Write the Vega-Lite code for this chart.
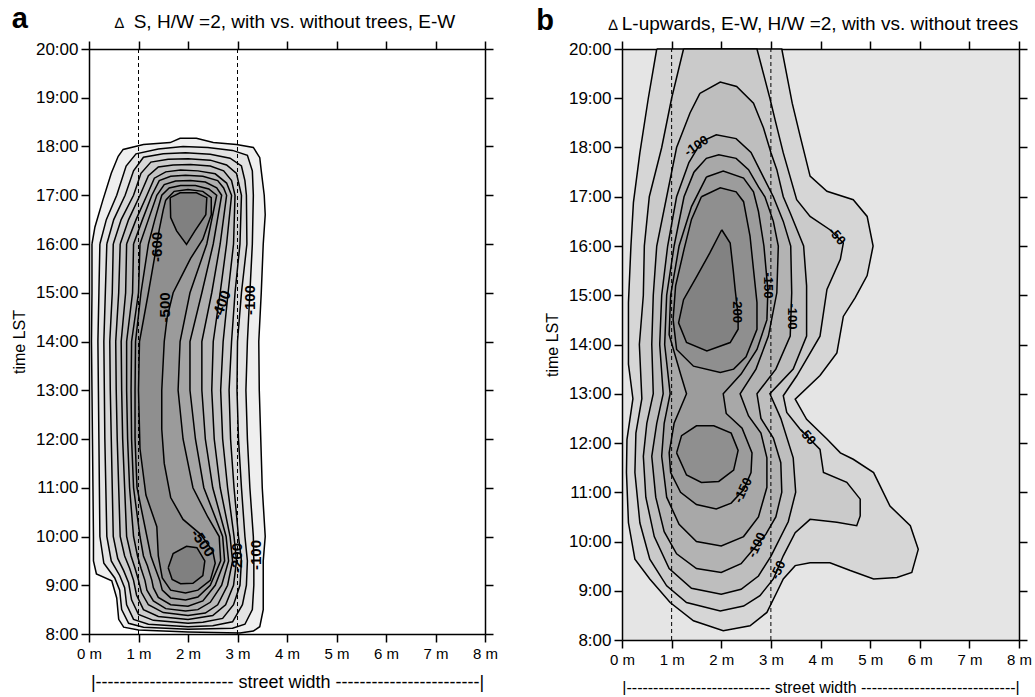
{
  "$schema": "https://vega.github.io/schema/vega-lite/v6.json",
  "background": "white",
  "padding": {"left": 11, "top": 5, "right": 0, "bottom": 0},
  "spacing": 38,
  "config": {
    "font": "Liberation Sans",
    "view": {"stroke": null},
    "axis": {"labelColor": "black", "titleColor": "black", "tickColor": "black", "domainColor": "black", "grid": false, "titleFontWeight": "normal", "tickSize": 8, "tickWidth": 1.5, "domainWidth": 1.5, "labelFlush": false, "labelOverlap": false, "zindex": 1},
    "line": {"stroke": "black", "strokeWidth": 1.5}
  },
  "datasets": {
    "pa": [
      {"l":1,"x":0.06,"h":16.0},{"l":1,"x":0.12,"h":16.35},{"l":1,"x":0.28,"h":16.9},{"l":1,"x":0.45,"h":17.45},{"l":1,"x":0.59,"h":17.8},{"l":1,"x":0.69,"h":17.94},{"l":1,"x":1.1,"h":18.04},{"l":1,"x":1.64,"h":18.08},{"l":1,"x":1.84,"h":18.17},{"l":1,"x":2.17,"h":18.17},{"l":1,"x":2.51,"h":18.08},{"l":1,"x":2.98,"h":18.04},{"l":1,"x":3.32,"h":17.98},{"l":1,"x":3.45,"h":17.77},{"l":1,"x":3.48,"h":17.5},{"l":1,"x":3.54,"h":17.0},{"l":1,"x":3.56,"h":16.6},{"l":1,"x":3.52,"h":16.0},{"l":1,"x":3.48,"h":15.0},{"l":1,"x":3.43,"h":14.0},{"l":1,"x":3.44,"h":13.0},{"l":1,"x":3.47,"h":12.0},{"l":1,"x":3.5,"h":11.0},{"l":1,"x":3.56,"h":10.0},{"l":1,"x":3.52,"h":9.5},{"l":1,"x":3.52,"h":8.5},{"l":1,"x":3.45,"h":8.15},{"l":1,"x":3.32,"h":8.06},{"l":1,"x":3.05,"h":8.02},{"l":1,"x":2.0,"h":8.04},{"l":1,"x":1.0,"h":8.08},{"l":1,"x":0.7,"h":8.14},{"l":1,"x":0.6,"h":8.3},{"l":1,"x":0.56,"h":8.74},{"l":1,"x":0.46,"h":9.09},{"l":1,"x":0.15,"h":9.23},{"l":1,"x":0.09,"h":9.5},{"l":1,"x":0.09,"h":10.0},{"l":1,"x":0.08,"h":11.0},{"l":1,"x":0.07,"h":12.0},{"l":1,"x":0.06,"h":13.0},{"l":1,"x":0.05,"h":14.0},{"l":1,"x":0.06,"h":15.0},{"l":1,"x":0.06,"h":16.0},
      {"l":2,"x":0.22,"h":16.0},{"l":2,"x":0.35,"h":16.5},{"l":2,"x":0.56,"h":17.0},{"l":2,"x":0.75,"h":17.6},{"l":2,"x":0.95,"h":17.85},{"l":2,"x":1.4,"h":17.95},{"l":2,"x":1.9,"h":18.0},{"l":2,"x":2.4,"h":17.98},{"l":2,"x":2.9,"h":17.92},{"l":2,"x":3.2,"h":17.82},{"l":2,"x":3.3,"h":17.5},{"l":2,"x":3.32,"h":17.0},{"l":2,"x":3.3,"h":16.0},{"l":2,"x":3.25,"h":15.0},{"l":2,"x":3.2,"h":14.0},{"l":2,"x":3.17,"h":13.0},{"l":2,"x":3.2,"h":12.0},{"l":2,"x":3.25,"h":11.0},{"l":2,"x":3.32,"h":10.0},{"l":2,"x":3.33,"h":9.5},{"l":2,"x":3.33,"h":9.0},{"l":2,"x":3.3,"h":8.5},{"l":2,"x":3.15,"h":8.2},{"l":2,"x":2.9,"h":8.12},{"l":2,"x":2.0,"h":8.1},{"l":2,"x":1.1,"h":8.14},{"l":2,"x":0.8,"h":8.22},{"l":2,"x":0.66,"h":8.5},{"l":2,"x":0.62,"h":8.9},{"l":2,"x":0.52,"h":9.15},{"l":2,"x":0.3,"h":9.45},{"l":2,"x":0.22,"h":10.0},{"l":2,"x":0.21,"h":11.0},{"l":2,"x":0.2,"h":12.0},{"l":2,"x":0.19,"h":13.0},{"l":2,"x":0.18,"h":14.0},{"l":2,"x":0.2,"h":15.0},{"l":2,"x":0.22,"h":16.0},
      {"l":3,"x":0.36,"h":16.0},{"l":3,"x":0.5,"h":16.5},{"l":3,"x":0.73,"h":17.0},{"l":3,"x":0.9,"h":17.5},{"l":3,"x":1.1,"h":17.78},{"l":3,"x":1.5,"h":17.85},{"l":3,"x":1.95,"h":17.87},{"l":3,"x":2.45,"h":17.84},{"l":3,"x":2.85,"h":17.76},{"l":3,"x":3.08,"h":17.6},{"l":3,"x":3.15,"h":17.3},{"l":3,"x":3.18,"h":17.0},{"l":3,"x":3.19,"h":16.0},{"l":3,"x":3.08,"h":15.0},{"l":3,"x":3.0,"h":14.0},{"l":3,"x":2.99,"h":13.0},{"l":3,"x":3.02,"h":12.0},{"l":3,"x":3.08,"h":11.0},{"l":3,"x":3.15,"h":10.0},{"l":3,"x":3.2,"h":9.5},{"l":3,"x":3.18,"h":9.0},{"l":3,"x":3.1,"h":8.6},{"l":3,"x":2.9,"h":8.25},{"l":3,"x":2.5,"h":8.17},{"l":3,"x":2.0,"h":8.15},{"l":3,"x":1.2,"h":8.2},{"l":3,"x":0.9,"h":8.3},{"l":3,"x":0.76,"h":8.6},{"l":3,"x":0.72,"h":8.95},{"l":3,"x":0.62,"h":9.2},{"l":3,"x":0.45,"h":9.5},{"l":3,"x":0.36,"h":10.0},{"l":3,"x":0.34,"h":11.0},{"l":3,"x":0.32,"h":12.0},{"l":3,"x":0.31,"h":13.0},{"l":3,"x":0.3,"h":14.0},{"l":3,"x":0.33,"h":15.0},{"l":3,"x":0.36,"h":16.0},
      {"l":4,"x":0.49,"h":16.0},{"l":4,"x":0.65,"h":16.5},{"l":4,"x":0.9,"h":17.0},{"l":4,"x":1.05,"h":17.45},{"l":4,"x":1.25,"h":17.68},{"l":4,"x":1.6,"h":17.74},{"l":4,"x":2.0,"h":17.75},{"l":4,"x":2.45,"h":17.72},{"l":4,"x":2.78,"h":17.62},{"l":4,"x":2.98,"h":17.45},{"l":4,"x":3.08,"h":17.0},{"l":4,"x":3.05,"h":16.0},{"l":4,"x":2.95,"h":15.0},{"l":4,"x":2.88,"h":14.0},{"l":4,"x":2.83,"h":13.0},{"l":4,"x":2.86,"h":12.0},{"l":4,"x":2.93,"h":11.0},{"l":4,"x":3.02,"h":10.0},{"l":4,"x":3.08,"h":9.5},{"l":4,"x":3.05,"h":9.0},{"l":4,"x":2.92,"h":8.6},{"l":4,"x":2.7,"h":8.32},{"l":4,"x":2.3,"h":8.24},{"l":4,"x":2.0,"h":8.22},{"l":4,"x":1.3,"h":8.28},{"l":4,"x":1.0,"h":8.4},{"l":4,"x":0.86,"h":8.7},{"l":4,"x":0.8,"h":9.05},{"l":4,"x":0.7,"h":9.3},{"l":4,"x":0.58,"h":9.55},{"l":4,"x":0.49,"h":10.0},{"l":4,"x":0.47,"h":11.0},{"l":4,"x":0.45,"h":12.0},{"l":4,"x":0.43,"h":13.0},{"l":4,"x":0.42,"h":14.0},{"l":4,"x":0.47,"h":15.0},{"l":4,"x":0.49,"h":16.0},
      {"l":5,"x":0.63,"h":16.0},{"l":5,"x":0.8,"h":16.5},{"l":5,"x":1.03,"h":17.0},{"l":5,"x":1.2,"h":17.4},{"l":5,"x":1.4,"h":17.58},{"l":5,"x":1.7,"h":17.62},{"l":5,"x":2.05,"h":17.63},{"l":5,"x":2.45,"h":17.6},{"l":5,"x":2.72,"h":17.5},{"l":5,"x":2.88,"h":17.3},{"l":5,"x":2.95,"h":17.0},{"l":5,"x":2.92,"h":16.0},{"l":5,"x":2.81,"h":15.0},{"l":5,"x":2.71,"h":14.0},{"l":5,"x":2.66,"h":13.0},{"l":5,"x":2.7,"h":12.0},{"l":5,"x":2.8,"h":11.0},{"l":5,"x":2.93,"h":10.0},{"l":5,"x":2.98,"h":9.5},{"l":5,"x":2.92,"h":9.0},{"l":5,"x":2.76,"h":8.6},{"l":5,"x":2.5,"h":8.38},{"l":5,"x":2.0,"h":8.3},{"l":5,"x":1.4,"h":8.36},{"l":5,"x":1.1,"h":8.5},{"l":5,"x":0.96,"h":8.8},{"l":5,"x":0.9,"h":9.1},{"l":5,"x":0.82,"h":9.35},{"l":5,"x":0.72,"h":9.6},{"l":5,"x":0.63,"h":10.0},{"l":5,"x":0.6,"h":11.0},{"l":5,"x":0.57,"h":12.0},{"l":5,"x":0.55,"h":13.0},{"l":5,"x":0.54,"h":14.0},{"l":5,"x":0.6,"h":15.0},{"l":5,"x":0.63,"h":16.0},
      {"l":6,"x":0.76,"h":16.0},{"l":6,"x":0.95,"h":16.5},{"l":6,"x":1.17,"h":17.0},{"l":6,"x":1.32,"h":17.35},{"l":6,"x":1.55,"h":17.48},{"l":6,"x":1.85,"h":17.52},{"l":6,"x":2.2,"h":17.5},{"l":6,"x":2.55,"h":17.44},{"l":6,"x":2.78,"h":17.25},{"l":6,"x":2.88,"h":17.0},{"l":6,"x":2.78,"h":16.0},{"l":6,"x":2.65,"h":15.0},{"l":6,"x":2.51,"h":14.0},{"l":6,"x":2.48,"h":13.0},{"l":6,"x":2.53,"h":12.0},{"l":6,"x":2.65,"h":11.0},{"l":6,"x":2.85,"h":10.0},{"l":6,"x":2.9,"h":9.5},{"l":6,"x":2.8,"h":9.0},{"l":6,"x":2.6,"h":8.6},{"l":6,"x":2.35,"h":8.43},{"l":6,"x":2.0,"h":8.38},{"l":6,"x":1.5,"h":8.44},{"l":6,"x":1.2,"h":8.6},{"l":6,"x":1.06,"h":8.85},{"l":6,"x":1.0,"h":9.1},{"l":6,"x":0.93,"h":9.35},{"l":6,"x":0.85,"h":9.6},{"l":6,"x":0.76,"h":10.0},{"l":6,"x":0.72,"h":11.0},{"l":6,"x":0.68,"h":12.0},{"l":6,"x":0.66,"h":13.0},{"l":6,"x":0.65,"h":14.0},{"l":6,"x":0.74,"h":15.0},{"l":6,"x":0.76,"h":16.0},
      {"l":7,"x":0.9,"h":16.0},{"l":7,"x":1.08,"h":16.5},{"l":7,"x":1.27,"h":17.0},{"l":7,"x":1.42,"h":17.3},{"l":7,"x":1.65,"h":17.39},{"l":7,"x":1.95,"h":17.41},{"l":7,"x":2.3,"h":17.39},{"l":7,"x":2.6,"h":17.3},{"l":7,"x":2.72,"h":17.15},{"l":7,"x":2.78,"h":17.0},{"l":7,"x":2.65,"h":16.0},{"l":7,"x":2.48,"h":15.0},{"l":7,"x":2.28,"h":14.0},{"l":7,"x":2.28,"h":13.0},{"l":7,"x":2.35,"h":12.0},{"l":7,"x":2.5,"h":11.0},{"l":7,"x":2.77,"h":10.0},{"l":7,"x":2.82,"h":9.5},{"l":7,"x":2.68,"h":9.0},{"l":7,"x":2.45,"h":8.65},{"l":7,"x":2.2,"h":8.5},{"l":7,"x":1.95,"h":8.47},{"l":7,"x":1.55,"h":8.52},{"l":7,"x":1.3,"h":8.68},{"l":7,"x":1.17,"h":8.9},{"l":7,"x":1.13,"h":9.1},{"l":7,"x":1.05,"h":9.35},{"l":7,"x":0.98,"h":9.6},{"l":7,"x":0.9,"h":10.0},{"l":7,"x":0.82,"h":11.0},{"l":7,"x":0.78,"h":12.0},{"l":7,"x":0.76,"h":13.0},{"l":7,"x":0.76,"h":14.0},{"l":7,"x":0.88,"h":15.0},{"l":7,"x":0.9,"h":16.0},
      {"l":8,"x":1.03,"h":16.0},{"l":8,"x":1.2,"h":16.5},{"l":8,"x":1.37,"h":17.0},{"l":8,"x":1.52,"h":17.22},{"l":8,"x":1.75,"h":17.29},{"l":8,"x":2.05,"h":17.3},{"l":8,"x":2.35,"h":17.27},{"l":8,"x":2.58,"h":17.15},{"l":8,"x":2.68,"h":17.0},{"l":8,"x":2.51,"h":16.0},{"l":8,"x":2.28,"h":15.0},{"l":8,"x":2.04,"h":14.0},{"l":8,"x":2.04,"h":13.0},{"l":8,"x":2.15,"h":12.0},{"l":8,"x":2.32,"h":11.0},{"l":8,"x":2.7,"h":10.0},{"l":8,"x":2.74,"h":9.5},{"l":8,"x":2.55,"h":9.0},{"l":8,"x":2.3,"h":8.68},{"l":8,"x":2.0,"h":8.57},{"l":8,"x":1.65,"h":8.6},{"l":8,"x":1.4,"h":8.75},{"l":8,"x":1.3,"h":8.95},{"l":8,"x":1.27,"h":9.1},{"l":8,"x":1.18,"h":9.4},{"l":8,"x":1.1,"h":9.6},{"l":8,"x":1.03,"h":10.0},{"l":8,"x":0.9,"h":11.0},{"l":8,"x":0.86,"h":12.0},{"l":8,"x":0.85,"h":13.0},{"l":8,"x":0.86,"h":14.0},{"l":8,"x":1.0,"h":15.0},{"l":8,"x":1.03,"h":16.0},
      {"l":9,"x":1.2,"h":16.0},{"l":9,"x":1.33,"h":16.5},{"l":9,"x":1.47,"h":17.0},{"l":9,"x":1.62,"h":17.15},{"l":9,"x":1.85,"h":17.2},{"l":9,"x":2.15,"h":17.2},{"l":9,"x":2.42,"h":17.13},{"l":9,"x":2.58,"h":17.0},{"l":9,"x":2.38,"h":16.0},{"l":9,"x":2.04,"h":15.0},{"l":9,"x":1.84,"h":14.0},{"l":9,"x":1.8,"h":13.0},{"l":9,"x":1.9,"h":12.0},{"l":9,"x":2.1,"h":11.0},{"l":9,"x":2.4,"h":10.4},{"l":9,"x":2.63,"h":10.0},{"l":9,"x":2.66,"h":9.5},{"l":9,"x":2.45,"h":9.0},{"l":9,"x":2.2,"h":8.76},{"l":9,"x":1.95,"h":8.7},{"l":9,"x":1.65,"h":8.74},{"l":9,"x":1.48,"h":8.9},{"l":9,"x":1.43,"h":9.1},{"l":9,"x":1.32,"h":9.4},{"l":9,"x":1.25,"h":9.6},{"l":9,"x":1.17,"h":10.0},{"l":9,"x":0.97,"h":11.0},{"l":9,"x":0.93,"h":12.0},{"l":9,"x":0.93,"h":13.0},{"l":9,"x":0.94,"h":14.0},{"l":9,"x":1.05,"h":15.0},{"l":9,"x":1.2,"h":16.0},
      {"l":10,"x":1.55,"h":16.9},{"l":10,"x":1.72,"h":17.08},{"l":10,"x":2.0,"h":17.12},{"l":10,"x":2.3,"h":17.08},{"l":10,"x":2.47,"h":16.95},{"l":10,"x":2.47,"h":16.6},{"l":10,"x":2.3,"h":16.1},{"l":10,"x":2.05,"h":15.7},{"l":10,"x":1.85,"h":15.3},{"l":10,"x":1.7,"h":15.0},{"l":10,"x":1.58,"h":14.5},{"l":10,"x":1.52,"h":14.0},{"l":10,"x":1.47,"h":13.0},{"l":10,"x":1.47,"h":12.2},{"l":10,"x":1.52,"h":11.5},{"l":10,"x":1.65,"h":10.8},{"l":10,"x":1.9,"h":10.35},{"l":10,"x":2.25,"h":10.05},{"l":10,"x":2.5,"h":9.7},{"l":10,"x":2.55,"h":9.45},{"l":10,"x":2.45,"h":9.1},{"l":10,"x":2.2,"h":8.9},{"l":10,"x":1.95,"h":8.84},{"l":10,"x":1.65,"h":8.9},{"l":10,"x":1.48,"h":9.15},{"l":10,"x":1.4,"h":9.6},{"l":10,"x":1.37,"h":10.2},{"l":10,"x":1.15,"h":10.85},{"l":10,"x":1.03,"h":11.8},{"l":10,"x":1.0,"h":13.0},{"l":10,"x":1.02,"h":14.0},{"l":10,"x":1.2,"h":15.0},{"l":10,"x":1.32,"h":15.7},{"l":10,"x":1.42,"h":16.3},{"l":10,"x":1.5,"h":16.7},{"l":10,"x":1.55,"h":16.9},
      {"l":11,"x":1.64,"h":16.95},{"l":11,"x":1.84,"h":17.05},{"l":11,"x":2.17,"h":17.05},{"l":11,"x":2.38,"h":16.95},{"l":11,"x":2.36,"h":16.6},{"l":11,"x":2.14,"h":16.27},{"l":11,"x":1.97,"h":15.99},{"l":11,"x":1.77,"h":16.27},{"l":11,"x":1.65,"h":16.54},{"l":11,"x":1.64,"h":16.95},
      {"l":12,"x":1.6,"h":9.36},{"l":12,"x":1.7,"h":9.65},{"l":12,"x":1.97,"h":9.8},{"l":12,"x":2.18,"h":9.77},{"l":12,"x":2.34,"h":9.5},{"l":12,"x":2.3,"h":9.2},{"l":12,"x":2.1,"h":9.04},{"l":12,"x":1.85,"h":9.03},{"l":12,"x":1.68,"h":9.12},{"l":12,"x":1.6,"h":9.36}
    ],
    "pb": [
      {"l":1,"x":0.7,"h":20},{"l":1,"x":3.22,"h":20},{"l":1,"x":3.43,"h":18.9},{"l":1,"x":3.59,"h":18.23},{"l":1,"x":3.79,"h":17.42},{"l":1,"x":4.13,"h":17.11},{"l":1,"x":4.66,"h":16.94},{"l":1,"x":4.94,"h":16.6},{"l":1,"x":5.06,"h":16.0},{"l":1,"x":4.94,"h":15.4},{"l":1,"x":4.7,"h":14.95},{"l":1,"x":4.46,"h":14.57},{"l":1,"x":4.33,"h":13.83},{"l":1,"x":3.99,"h":13.37},{"l":1,"x":3.49,"h":12.89},{"l":1,"x":3.72,"h":12.48},{"l":1,"x":4.13,"h":12.08},{"l":1,"x":4.4,"h":11.8},{"l":1,"x":4.66,"h":11.67},{"l":1,"x":5.07,"h":11.4},{"l":1,"x":5.4,"h":10.72},{"l":1,"x":5.81,"h":10.32},{"l":1,"x":5.97,"h":9.84},{"l":1,"x":5.84,"h":9.37},{"l":1,"x":5.54,"h":9.27},{"l":1,"x":5.07,"h":9.24},{"l":1,"x":4.6,"h":9.41},{"l":1,"x":4.19,"h":9.57},{"l":1,"x":3.79,"h":9.57},{"l":1,"x":3.49,"h":9.51},{"l":1,"x":3.25,"h":9.24},{"l":1,"x":3.12,"h":8.97},{"l":1,"x":2.92,"h":8.56},{"l":1,"x":2.58,"h":8.29},{"l":1,"x":2.04,"h":8.19},{"l":1,"x":1.44,"h":8.39},{"l":1,"x":0.97,"h":8.76},{"l":1,"x":0.56,"h":9.24},{"l":1,"x":0.26,"h":9.64},{"l":1,"x":0.13,"h":10.38},{"l":1,"x":0.09,"h":11.4},{"l":1,"x":0.1,"h":12.07},{"l":1,"x":0.22,"h":12.9},{"l":1,"x":0.13,"h":13.6},{"l":1,"x":0.13,"h":14.85},{"l":1,"x":0.18,"h":16.0},{"l":1,"x":0.23,"h":16.88},{"l":1,"x":0.36,"h":17.89},{"l":1,"x":0.53,"h":19.0},{"l":1,"x":0.7,"h":20},
      {"l":2,"x":1.24,"h":20},{"l":2,"x":2.72,"h":20},{"l":2,"x":2.98,"h":19.0},{"l":2,"x":3.1,"h":18.5},{"l":2,"x":3.25,"h":17.89},{"l":2,"x":3.52,"h":16.94},{"l":2,"x":3.79,"h":16.6},{"l":2,"x":4.19,"h":16.33},{"l":2,"x":4.46,"h":16.06},{"l":2,"x":4.4,"h":15.73},{"l":2,"x":4.13,"h":15.12},{"l":2,"x":3.99,"h":14.17},{"l":2,"x":3.52,"h":13.36},{"l":2,"x":3.25,"h":12.96},{"l":2,"x":3.32,"h":12.62},{"l":2,"x":3.59,"h":12.28},{"l":2,"x":3.99,"h":11.87},{"l":2,"x":4.06,"h":11.4},{"l":2,"x":4.53,"h":11.2},{"l":2,"x":4.8,"h":10.86},{"l":2,"x":4.8,"h":10.52},{"l":2,"x":4.73,"h":10.32},{"l":2,"x":4.33,"h":10.39},{"l":2,"x":3.79,"h":10.45},{"l":2,"x":3.49,"h":10.18},{"l":2,"x":3.25,"h":9.71},{"l":2,"x":3.05,"h":9.24},{"l":2,"x":2.78,"h":8.9},{"l":2,"x":2.45,"h":8.69},{"l":2,"x":1.98,"h":8.59},{"l":2,"x":1.3,"h":8.76},{"l":2,"x":0.9,"h":9.1},{"l":2,"x":0.56,"h":9.64},{"l":2,"x":0.36,"h":10.38},{"l":2,"x":0.26,"h":11.4},{"l":2,"x":0.28,"h":12.2},{"l":2,"x":0.4,"h":12.9},{"l":2,"x":0.35,"h":14.0},{"l":2,"x":0.43,"h":15.0},{"l":2,"x":0.45,"h":16.0},{"l":2,"x":0.55,"h":17.0},{"l":2,"x":0.8,"h":18.0},{"l":2,"x":1.0,"h":19.0},{"l":2,"x":1.24,"h":20},
      {"l":3,"x":1.57,"h":19.1},{"l":3,"x":1.98,"h":19.33},{"l":3,"x":2.31,"h":19.24},{"l":3,"x":2.65,"h":18.9},{"l":3,"x":2.85,"h":18.4},{"l":3,"x":3.0,"h":17.9},{"l":3,"x":3.12,"h":17.55},{"l":3,"x":3.25,"h":17.0},{"l":3,"x":3.39,"h":16.67},{"l":3,"x":3.66,"h":16.0},{"l":3,"x":3.72,"h":15.19},{"l":3,"x":3.72,"h":14.17},{"l":3,"x":3.45,"h":13.5},{"l":3,"x":2.98,"h":13.0},{"l":3,"x":3.2,"h":12.5},{"l":3,"x":3.45,"h":11.7},{"l":3,"x":3.5,"h":11.0},{"l":3,"x":3.35,"h":10.4},{"l":3,"x":3.0,"h":9.7},{"l":3,"x":2.75,"h":9.3},{"l":3,"x":2.4,"h":9.03},{"l":3,"x":2.0,"h":8.93},{"l":3,"x":1.4,"h":9.05},{"l":3,"x":0.95,"h":9.45},{"l":3,"x":0.65,"h":10.1},{"l":3,"x":0.48,"h":10.9},{"l":3,"x":0.43,"h":11.73},{"l":3,"x":0.5,"h":12.4},{"l":3,"x":0.63,"h":13.0},{"l":3,"x":0.6,"h":14.0},{"l":3,"x":0.63,"h":15.0},{"l":3,"x":0.7,"h":16.0},{"l":3,"x":0.9,"h":17.0},{"l":3,"x":1.1,"h":18.0},{"l":3,"x":1.37,"h":18.7},{"l":3,"x":1.57,"h":19.1},
      {"l":4,"x":1.35,"h":17.7},{"l":4,"x":1.6,"h":18.12},{"l":4,"x":1.9,"h":18.26},{"l":4,"x":2.3,"h":18.18},{"l":4,"x":2.6,"h":17.9},{"l":4,"x":2.85,"h":17.4},{"l":4,"x":3.05,"h":17.0},{"l":4,"x":3.25,"h":16.5},{"l":4,"x":3.4,"h":16.0},{"l":4,"x":3.42,"h":15.05},{"l":4,"x":3.39,"h":14.17},{"l":4,"x":3.1,"h":13.5},{"l":4,"x":2.72,"h":13.0},{"l":4,"x":2.8,"h":12.5},{"l":4,"x":3.05,"h":12.1},{"l":4,"x":3.2,"h":11.6},{"l":4,"x":3.22,"h":11.0},{"l":4,"x":3.1,"h":10.5},{"l":4,"x":2.9,"h":10.15},{"l":4,"x":2.72,"h":9.93},{"l":4,"x":2.4,"h":9.55},{"l":4,"x":2.0,"h":9.37},{"l":4,"x":1.5,"h":9.45},{"l":4,"x":1.1,"h":9.75},{"l":4,"x":0.85,"h":10.2},{"l":4,"x":0.68,"h":10.9},{"l":4,"x":0.6,"h":11.73},{"l":4,"x":0.7,"h":12.4},{"l":4,"x":0.83,"h":13.0},{"l":4,"x":0.76,"h":14.0},{"l":4,"x":0.8,"h":15.0},{"l":4,"x":0.92,"h":16.0},{"l":4,"x":1.1,"h":17.0},{"l":4,"x":1.35,"h":17.7},
      {"l":5,"x":1.45,"h":17.5},{"l":5,"x":1.7,"h":17.78},{"l":5,"x":1.95,"h":17.85},{"l":5,"x":2.3,"h":17.78},{"l":5,"x":2.55,"h":17.55},{"l":5,"x":2.75,"h":17.2},{"l":5,"x":2.88,"h":17.0},{"l":5,"x":3.05,"h":16.5},{"l":5,"x":3.15,"h":16.0},{"l":5,"x":3.12,"h":15.05},{"l":5,"x":2.95,"h":14.17},{"l":5,"x":2.7,"h":13.5},{"l":5,"x":2.38,"h":13.0},{"l":5,"x":2.55,"h":12.55},{"l":5,"x":2.8,"h":12.2},{"l":5,"x":2.92,"h":11.7},{"l":5,"x":2.92,"h":11.1},{"l":5,"x":2.75,"h":10.5},{"l":5,"x":2.45,"h":10.1},{"l":5,"x":2.0,"h":9.91},{"l":5,"x":1.5,"h":10.0},{"l":5,"x":1.15,"h":10.35},{"l":5,"x":0.9,"h":10.9},{"l":5,"x":0.8,"h":11.73},{"l":5,"x":0.85,"h":12.4},{"l":5,"x":0.97,"h":13.0},{"l":5,"x":0.86,"h":14.0},{"l":5,"x":0.9,"h":15.0},{"l":5,"x":1.05,"h":16.0},{"l":5,"x":1.25,"h":17.0},{"l":5,"x":1.45,"h":17.5},
      {"l":6,"x":1.7,"h":17.4},{"l":6,"x":2.04,"h":17.52},{"l":6,"x":2.45,"h":17.38},{"l":6,"x":2.65,"h":17.1},{"l":6,"x":2.75,"h":16.7},{"l":6,"x":2.86,"h":16.0},{"l":6,"x":2.94,"h":15.1},{"l":6,"x":2.92,"h":14.5},{"l":6,"x":2.72,"h":13.9},{"l":6,"x":2.4,"h":13.4},{"l":6,"x":2.04,"h":13.0},{"l":6,"x":2.1,"h":12.6},{"l":6,"x":2.42,"h":12.3},{"l":6,"x":2.62,"h":11.8},{"l":6,"x":2.6,"h":11.4},{"l":6,"x":2.45,"h":11.05},{"l":6,"x":2.2,"h":10.78},{"l":6,"x":1.9,"h":10.66},{"l":6,"x":1.5,"h":10.75},{"l":6,"x":1.18,"h":11.0},{"l":6,"x":0.98,"h":11.4},{"l":6,"x":0.95,"h":11.8},{"l":6,"x":1.05,"h":12.4},{"l":6,"x":1.3,"h":13.0},{"l":6,"x":1.18,"h":13.4},{"l":6,"x":0.95,"h":14.2},{"l":6,"x":0.98,"h":15.0},{"l":6,"x":1.15,"h":16.0},{"l":6,"x":1.4,"h":16.8},{"l":6,"x":1.7,"h":17.4},
      {"l":7,"x":1.6,"h":17.0},{"l":7,"x":1.98,"h":17.18},{"l":7,"x":2.3,"h":17.1},{"l":7,"x":2.45,"h":16.9},{"l":7,"x":2.58,"h":16.2},{"l":7,"x":2.65,"h":15.52},{"l":7,"x":2.72,"h":14.85},{"l":7,"x":2.72,"h":14.31},{"l":7,"x":2.5,"h":13.75},{"l":7,"x":2.25,"h":13.5},{"l":7,"x":1.98,"h":13.43},{"l":7,"x":1.44,"h":13.56},{"l":7,"x":1.1,"h":13.9},{"l":7,"x":1.03,"h":14.51},{"l":7,"x":1.08,"h":15.19},{"l":7,"x":1.25,"h":15.93},{"l":7,"x":1.4,"h":16.54},{"l":7,"x":1.6,"h":17.0},
      {"l":8,"x":1.1,"h":11.8},{"l":8,"x":1.2,"h":12.15},{"l":8,"x":1.5,"h":12.35},{"l":8,"x":1.85,"h":12.35},{"l":8,"x":2.2,"h":12.2},{"l":8,"x":2.34,"h":11.85},{"l":8,"x":2.25,"h":11.45},{"l":8,"x":1.95,"h":11.22},{"l":8,"x":1.6,"h":11.2},{"l":8,"x":1.3,"h":11.35},{"l":8,"x":1.1,"h":11.8},
      {"l":9,"x":2.01,"h":16.33},{"l":9,"x":2.18,"h":16.06},{"l":9,"x":2.24,"h":15.52},{"l":9,"x":2.28,"h":15.12},{"l":9,"x":2.34,"h":14.58},{"l":9,"x":2.34,"h":14.31},{"l":9,"x":2.18,"h":14.04},{"l":9,"x":1.71,"h":13.87},{"l":9,"x":1.3,"h":14.04},{"l":9,"x":1.14,"h":14.44},{"l":9,"x":1.24,"h":14.91},{"l":9,"x":1.51,"h":15.39},{"l":9,"x":1.77,"h":15.86},{"l":9,"x":2.01,"h":16.33}
    ]
  },
  "hconcat": [
    {
      "width": 396,
      "height": 585,
      "encoding": {
        "x": {"field": "x", "type": "quantitative", "scale": {"domain": [0, 8], "nice": false, "zero": false}, "axis": null},
        "y": {"field": "h", "type": "quantitative", "scale": {"domain": [8, 20], "nice": false, "zero": false}, "axis": null}
      },
      "resolve": {"axis": {"x": "independent", "y": "independent"}},
      "layer": [
        {"data": {"name": "pa"}, "transform": [{"filter": "datum.l == 1"}], "mark": {"type": "line", "fill": "#efefef"},
         "encoding": {
           "x": {"field": "x", "type": "quantitative", "scale": {"domain": [0, 8], "nice": false, "zero": false}, "axis": {"orient": "bottom", "values": [0,1,2,3,4,5,6,7,8], "labelExpr": "datum.value + ' m'", "labelFontSize": 15, "labelPadding": 4, "title": "|----------------------- street width ------------------------|", "titleFontSize": 18, "titlePadding": 12}},
           "y": {"field": "h", "type": "quantitative", "scale": {"domain": [8, 20], "nice": false, "zero": false}, "axis": {"orient": "left", "values": [8,9,10,11,12,13,14,15,16,17,18,19,20], "labelExpr": "datum.value + ':00'", "labelFontSize": 17, "labelPadding": 3, "title": "time  LST", "titleFontSize": 16, "titlePadding": 8}},
           "order": {"value": null}, "detail": {"field": "l"}}},
        {"data": {"name": "pa"}, "transform": [{"filter": "datum.l == 2"}], "mark": {"type": "line", "fill": "#e3e3e3"}, "encoding": {"order": {"value": null}, "detail": {"field": "l"}}},
        {"data": {"name": "pa"}, "transform": [{"filter": "datum.l == 3"}], "mark": {"type": "line", "fill": "#d8d8d8"}, "encoding": {"order": {"value": null}, "detail": {"field": "l"}}},
        {"data": {"name": "pa"}, "transform": [{"filter": "datum.l == 4"}], "mark": {"type": "line", "fill": "#cdcdcd"}, "encoding": {"order": {"value": null}, "detail": {"field": "l"}}},
        {"data": {"name": "pa"}, "transform": [{"filter": "datum.l == 5"}], "mark": {"type": "line", "fill": "#c3c3c3"}, "encoding": {"order": {"value": null}, "detail": {"field": "l"}}},
        {"data": {"name": "pa"}, "transform": [{"filter": "datum.l == 6"}], "mark": {"type": "line", "fill": "#b9b9b9"}, "encoding": {"order": {"value": null}, "detail": {"field": "l"}}},
        {"data": {"name": "pa"}, "transform": [{"filter": "datum.l == 7"}], "mark": {"type": "line", "fill": "#afafaf"}, "encoding": {"order": {"value": null}, "detail": {"field": "l"}}},
        {"data": {"name": "pa"}, "transform": [{"filter": "datum.l == 8"}], "mark": {"type": "line", "fill": "#a5a5a5"}, "encoding": {"order": {"value": null}, "detail": {"field": "l"}}},
        {"data": {"name": "pa"}, "transform": [{"filter": "datum.l == 9"}], "mark": {"type": "line", "fill": "#9b9b9b"}, "encoding": {"order": {"value": null}, "detail": {"field": "l"}}},
        {"data": {"name": "pa"}, "transform": [{"filter": "datum.l == 10"}], "mark": {"type": "line", "fill": "#8f8f8f"}, "encoding": {"order": {"value": null}, "detail": {"field": "l"}}},
        {"data": {"name": "pa"}, "transform": [{"filter": "datum.l >= 11"}], "mark": {"type": "line", "fill": "#808080"}, "encoding": {"order": {"value": null}, "detail": {"field": "l"}}},
        {"data": {"values": [{"x": 1, "h": 8, "h2": 20}, {"x": 3, "h": 8, "h2": 20}]},
         "mark": {"type": "rule", "stroke": "black", "strokeWidth": 1, "strokeDash": [4, 3]},
         "encoding": {
           "x": {"field": "x", "type": "quantitative", "scale": {"domain": [0, 8], "nice": false, "zero": false}, "axis": {"orient": "top", "values": [0,1,2,3,4,5,6,7,8], "labels": false, "title": null}},
           "y2": {"field": "h2"}}},
        {"data": {"values": [{"t": "-600", "x": 1.37, "h": 15.94}, {"t": "-500", "x": 1.54, "h": 14.7}, {"t": "-100", "x": 3.25, "h": 14.85}, {"t": "-200", "x": 2.98, "h": 9.56}, {"t": "-100", "x": 3.38, "h": 9.62}]},
         "mark": {"type": "text", "angle": 270, "fontWeight": "bold", "fontSize": 15, "align": "center", "baseline": "middle", "color": "black"},
         "encoding": {
           "text": {"field": "t"},
           "y": {"field": "h", "type": "quantitative", "scale": {"domain": [8, 20], "nice": false, "zero": false}, "axis": {"orient": "right", "values": [8,9,10,11,12,13,14,15,16,17,18,19,20], "labels": false, "title": null}}}},
        {"data": {"values": [{"t": "-400", "x": 2.67, "h": 14.75}]},
         "mark": {"type": "text", "angle": 290, "fontWeight": "bold", "fontSize": 15, "align": "center", "baseline": "middle", "color": "black"},
         "encoding": {"text": {"field": "t"}}},
        {"data": {"values": [{"t": "-500", "x": 2.3, "h": 9.87}]},
         "mark": {"type": "text", "angle": 55, "fontWeight": "bold", "fontSize": 15, "align": "center", "baseline": "middle", "color": "black"},
         "encoding": {"text": {"field": "t"}}},
        {"data": {"values": [{"t": "a", "x": -1.4, "h": 20.43}]},
         "mark": {"type": "text", "fontWeight": "bold", "fontSize": 29, "align": "center", "baseline": "alphabetic", "color": "black"},
         "encoding": {"text": {"field": "t"}}},
        {"data": {"values": [{"t": "S, H/W =2, with vs. without trees, E-W", "x": 4.15, "h": 20.43}]},
         "mark": {"type": "text", "fontSize": 19, "align": "center", "baseline": "alphabetic", "color": "black"},
         "encoding": {"text": {"field": "t"}}},
        {"data": {"values": [{"t": "∆", "x": 0.52, "h": 20.43}]},
         "mark": {"type": "text", "fontSize": 15, "align": "left", "baseline": "alphabetic", "color": "black"},
         "encoding": {"text": {"field": "t"}}}
      ]
    },
    {
      "width": 397,
      "height": 591,
      "view": {"fill": "#e5e5e5", "stroke": null},
      "encoding": {
        "x": {"field": "x", "type": "quantitative", "scale": {"domain": [0, 8], "nice": false, "zero": false}, "axis": null},
        "y": {"field": "h", "type": "quantitative", "scale": {"domain": [8, 20], "nice": false, "zero": false}, "axis": null}
      },
      "resolve": {"axis": {"x": "independent", "y": "independent"}},
      "layer": [
        {"data": {"name": "pb"}, "transform": [{"filter": "datum.l == 1"}], "mark": {"type": "line", "fill": "#d6d6d6"},
         "encoding": {
           "x": {"field": "x", "type": "quantitative", "scale": {"domain": [0, 8], "nice": false, "zero": false}, "axis": {"orient": "bottom", "values": [0,1,2,3,4,5,6,7,8], "labelExpr": "datum.value + ' m'", "labelFontSize": 15, "labelPadding": 4, "title": "|--------------------------- street width -----------------------------|", "titleFontSize": 16, "titlePadding": 12}},
           "y": {"field": "h", "type": "quantitative", "scale": {"domain": [8, 20], "nice": false, "zero": false}, "axis": {"orient": "left", "values": [8,9,10,11,12,13,14,15,16,17,18,19,20], "labelExpr": "datum.value + ':00'", "labelFontSize": 17, "labelPadding": 3, "title": "time  LST", "titleFontSize": 16, "titlePadding": 8}},
           "order": {"value": null}, "detail": {"field": "l"}}},
        {"data": {"name": "pb"}, "transform": [{"filter": "datum.l == 2"}], "mark": {"type": "line", "fill": "#cacaca"}, "encoding": {"order": {"value": null}, "detail": {"field": "l"}}},
        {"data": {"name": "pb"}, "transform": [{"filter": "datum.l == 3"}], "mark": {"type": "line", "fill": "#bebebe"}, "encoding": {"order": {"value": null}, "detail": {"field": "l"}}},
        {"data": {"name": "pb"}, "transform": [{"filter": "datum.l == 4"}], "mark": {"type": "line", "fill": "#b3b3b3"}, "encoding": {"order": {"value": null}, "detail": {"field": "l"}}},
        {"data": {"name": "pb"}, "transform": [{"filter": "datum.l == 5"}], "mark": {"type": "line", "fill": "#a8a8a8"}, "encoding": {"order": {"value": null}, "detail": {"field": "l"}}},
        {"data": {"name": "pb"}, "transform": [{"filter": "datum.l == 6"}], "mark": {"type": "line", "fill": "#9c9c9c"}, "encoding": {"order": {"value": null}, "detail": {"field": "l"}}},
        {"data": {"name": "pb"}, "transform": [{"filter": "datum.l == 7 || datum.l == 8"}], "mark": {"type": "line", "fill": "#8f8f8f"}, "encoding": {"order": {"value": null}, "detail": {"field": "l"}}},
        {"data": {"name": "pb"}, "transform": [{"filter": "datum.l == 9"}], "mark": {"type": "line", "fill": "#828282"}, "encoding": {"order": {"value": null}, "detail": {"field": "l"}}},
        {"data": {"values": [{"x": 1, "h": 8, "h2": 20}, {"x": 3, "h": 8, "h2": 20}]},
         "mark": {"type": "rule", "stroke": "black", "strokeWidth": 1, "strokeDash": [4, 3]},
         "encoding": {
           "x": {"field": "x", "type": "quantitative", "scale": {"domain": [0, 8], "nice": false, "zero": false}, "axis": {"orient": "top", "values": [0,1,2,3,4,5,6,7,8], "labels": false, "title": null}},
           "y2": {"field": "h2"}}},
        {"data": {"values": [{"t": "-150", "x": 2.94, "h": 15.2}, {"t": "-200", "x": 2.32, "h": 14.7}, {"t": "-100", "x": 3.43, "h": 14.57}]},
         "mark": {"type": "text", "angle": 90, "fontWeight": "bold", "fontSize": 13, "align": "center", "baseline": "middle", "color": "black"},
         "encoding": {
           "text": {"field": "t"},
           "y": {"field": "h", "type": "quantitative", "scale": {"domain": [8, 20], "nice": false, "zero": false}, "axis": {"orient": "right", "values": [8,9,10,11,12,13,14,15,16,17,18,19,20], "labels": false, "title": null}}}},
        {"data": {"values": [{"t": "-100", "x": 1.5, "h": 18.03}]},
         "mark": {"type": "text", "angle": 325, "fontWeight": "bold", "fontSize": 13, "align": "center", "baseline": "middle", "color": "black"},
         "encoding": {"text": {"field": "t"}}},
        {"data": {"values": [{"t": "-50", "x": 4.33, "h": 16.2}, {"t": "-50", "x": 3.73, "h": 12.14}]},
         "mark": {"type": "text", "angle": 50, "fontWeight": "bold", "fontSize": 13, "align": "center", "baseline": "middle", "color": "black"},
         "encoding": {"text": {"field": "t"}}},
        {"data": {"values": [{"t": "-150", "x": 2.44, "h": 11.04}, {"t": "-100", "x": 2.72, "h": 9.93}, {"t": "-50", "x": 3.15, "h": 9.42}]},
         "mark": {"type": "text", "angle": 295, "fontWeight": "bold", "fontSize": 13, "align": "center", "baseline": "middle", "color": "black"},
         "encoding": {"text": {"field": "t"}}},
        {"data": {"values": [{"t": "b", "x": -1.55, "h": 20.39}]},
         "mark": {"type": "text", "fontWeight": "bold", "fontSize": 29, "align": "center", "baseline": "alphabetic", "color": "black"},
         "encoding": {"text": {"field": "t"}}},
        {"data": {"values": [{"t": "L-upwards, E-W, H/W =2, with vs. without trees", "x": 3.99, "h": 20.39}]},
         "mark": {"type": "text", "fontSize": 19, "align": "center", "baseline": "alphabetic", "color": "black"},
         "encoding": {"text": {"field": "t"}}},
        {"data": {"values": [{"t": "∆", "x": -0.27, "h": 20.39}]},
         "mark": {"type": "text", "fontSize": 15, "align": "left", "baseline": "alphabetic", "color": "black"},
         "encoding": {"text": {"field": "t"}}}
      ]
    }
  ]
}
